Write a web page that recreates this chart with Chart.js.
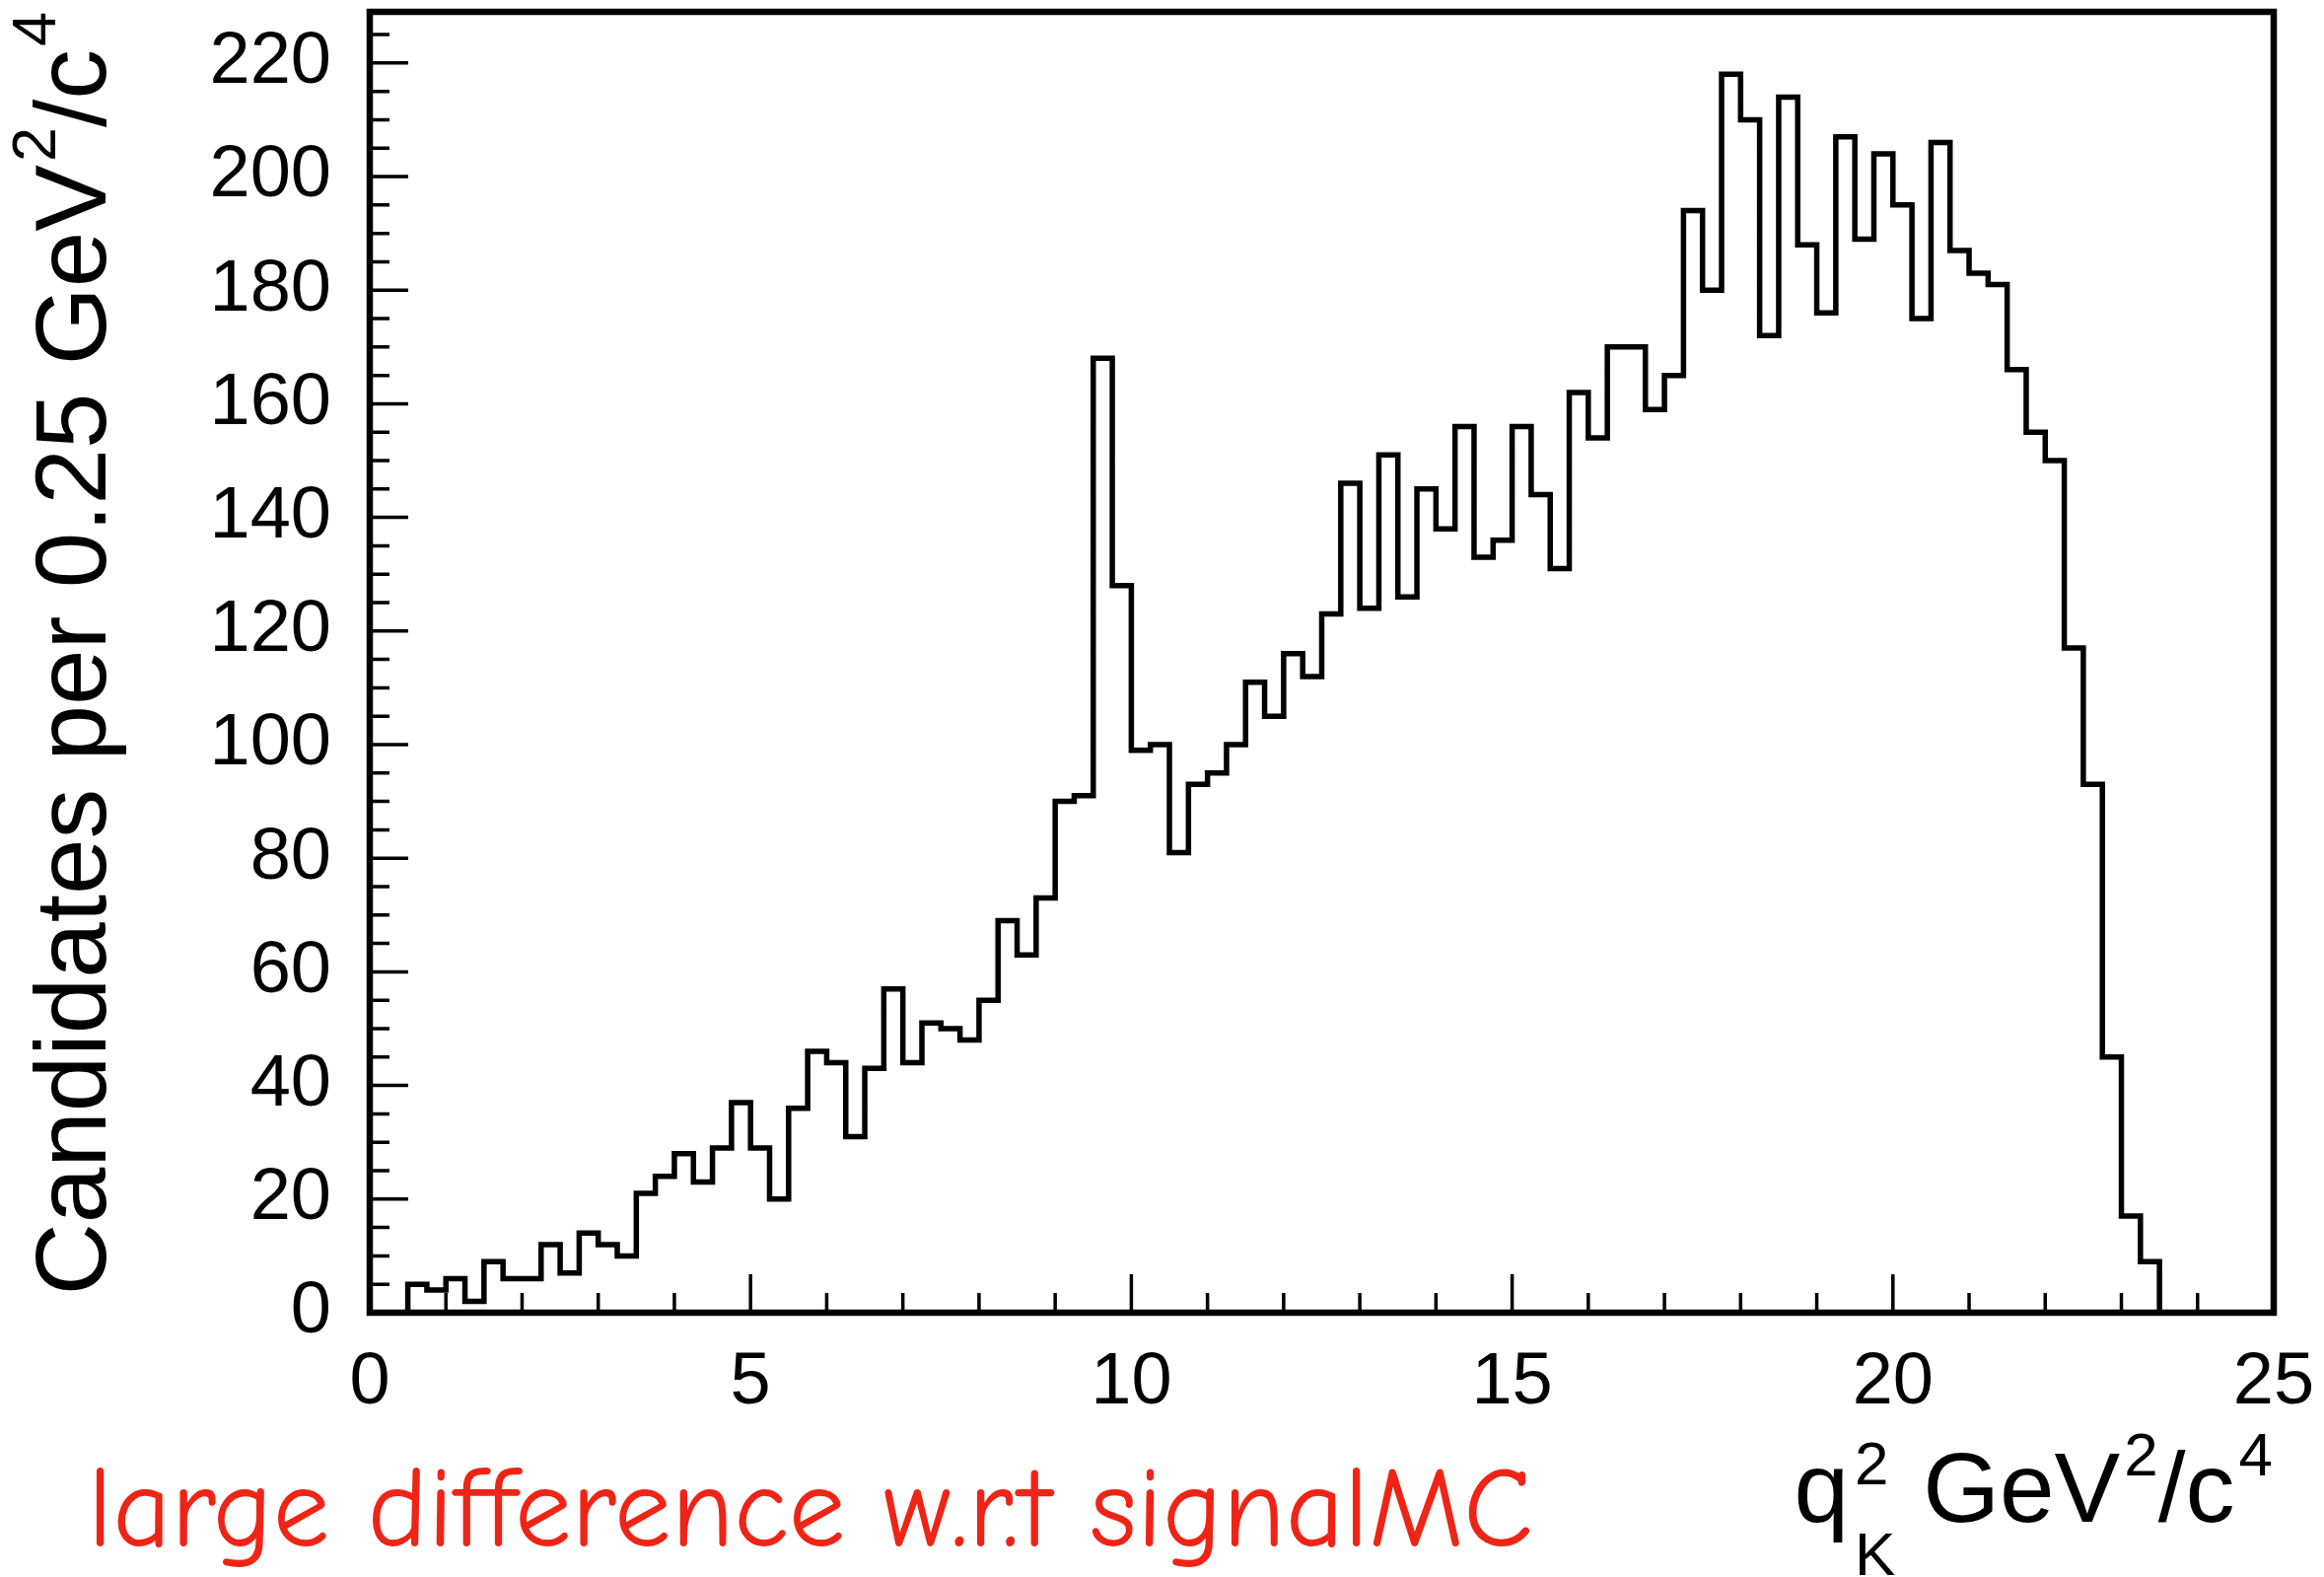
<!DOCTYPE html>
<html><head><meta charset="utf-8">
<script src="https://cdn.jsdelivr.net/npm/chart.js@4.4.1/dist/chart.umd.min.js"></script>
<style>html,body{margin:0;padding:0;background:#fff;}canvas{display:block;}</style>
</head><body>
<canvas id="c" width="2357" height="1599" style="width:2357px;height:1599px"></canvas>
<script>
// ---- data ----
const xMin = 0, xMax = 25, binWidth = 0.25;
const yMin = 0, yMax = 229;
const counts = [
  0, 0, 5, 4, 6, 2, 9, 6, 6, 12,
  7, 14, 12, 10, 21, 24, 28, 23, 29, 37,
  29, 20, 36, 46, 44, 31, 43, 57, 44, 51,
  50, 48, 55, 69, 63, 73, 90, 91, 168, 128,
  99, 100, 81, 93, 95, 100, 111, 105, 116, 112,
  123, 146, 124, 151, 126, 145, 138, 156, 133, 136,
  156, 144, 131, 162, 154, 170, 170, 159, 165, 194,
  180, 218, 210, 172, 214, 188, 176, 207, 189, 204,
  195, 175, 206, 187, 183, 181, 166, 155, 150, 117,
  93, 45, 17, 9, 0, 0, 0, 0, 0, 0
];
const binLowEdges = counts.map((_, i) => xMin + i * binWidth);
const yTickLabels = [0, 20, 40, 60, 80, 100, 120, 140, 160, 180, 200, 220];
const xTickLabels = [0, 5, 10, 15, 20, 25];
const yTitleParts = [
  {t: 'Candidates per 0.25 GeV', s: 1, r: 0},
  {t: '2', s: 0.62, r: 0.5, gap: 3},
  {t: '/c', s: 1, r: 0},
  {t: '4', s: 0.62, r: 0.5, gap: 3}
];
const xTitleParts = [
  {t: 'q', s: 1, r: 0},
  {t: '2', s: 0.62, r: 0.38, gap: 6, stack: true},
  {t: 'K', s: 0.62, r: -0.54, gap: 6},
  {t: ' GeV', s: 1, r: 0},
  {t: '2', s: 0.62, r: 0.47, gap: 4},
  {t: '/c', s: 1, r: 0},
  {t: '4', s: 0.62, r: 0.47, gap: 4}
];
const noteText = 'large difference w.r.t signalMC';

// ---- styling ----
const FONT = "'Liberation Sans', Arial, Helvetica, sans-serif";
const NOTE_FONT = "'Comic Sans MS', 'Comic Neue', 'DejaVu Sans'";
const AREA = {left: 375, right: 2306, top: 12, bottom: 1331};
const W = 2357, H = 1599;

const points = binLowEdges.map((x, i) => ({x: x, y: counts[i]}));
points.push({x: xMax, y: counts[counts.length - 1]});

function drawRich(ctx, parts, size) {
  const items = [];
  let x = 0, pending = 0;
  for (const p of parts) {
    ctx.font = (size * p.s) + 'px ' + FONT;
    const w = ctx.measureText(p.t).width;
    const startX = x + (p.gap || 0);
    items.push({p, x: startX, w});
    if (p.stack) { pending = Math.max(pending, w + (p.gap || 0)); }
    else { x = startX + Math.max(w, pending - (p.gap || 0)); pending = 0; }
  }
  const total = x;
  ctx.textAlign = 'left';
  ctx.textBaseline = 'alphabetic';
  for (const it of items) {
    ctx.font = (size * it.p.s) + 'px ' + FONT;
    ctx.fillText(it.p.t, it.x - total, -it.p.r * size);
  }
}

const rootPlugin = {
  id: 'rootStyle',
  afterDatasetsDraw(chart) {
    const {ctx, chartArea: a, scales: {x, y}} = chart;
    ctx.save();
    ctx.strokeStyle = '#000';
    ctx.lineWidth = 3.5;
    ctx.lineCap = 'butt';
    ctx.beginPath();
    for (let v = yMin; v <= yMax; v += 5) {
      const py = y.getPixelForValue(v);
      const len = (v % 20 === 0) ? 39 : 20;
      ctx.moveTo(a.left, py); ctx.lineTo(a.left + len, py);
    }
    for (let v = xMin; v <= xMax; v += 1) {
      const px = x.getPixelForValue(v);
      const len = (v % 5 === 0) ? 39 : 20;
      ctx.moveTo(px, a.bottom); ctx.lineTo(px, a.bottom - len);
    }
    ctx.stroke();
    ctx.lineWidth = 6.5;
    ctx.lineJoin = 'miter';
    ctx.strokeRect(a.left, a.top, a.right - a.left, a.bottom - a.top);
    ctx.restore();
  },
  afterDraw(chart) {
    const ctx = chart.ctx;
    ctx.save();
    ctx.fillStyle = '#000';
    ctx.save();
    ctx.translate(107, 12);
    ctx.rotate(-Math.PI / 2);
    drawRich(ctx, yTitleParts, 101.6);
    ctx.restore();
    ctx.save();
    ctx.translate(2305, 1543);
    drawRich(ctx, xTitleParts, 100);
    ctx.restore();
    let size = 100;
    ctx.font = size + 'px ' + NOTE_FONT;
    const w = ctx.measureText(noteText).width;
    size = size * 1466 / w;
    ctx.font = size + 'px ' + NOTE_FONT;
    ctx.fillStyle = '#ee2416';
    ctx.textAlign = 'left';
    ctx.textBaseline = 'alphabetic';
    ctx.fillText(noteText, 89, 1567);
    ctx.restore();
  }
};

new Chart(document.getElementById('c'), {
  type: 'line',
  data: {
    datasets: [{
      data: points,
      stepped: true,
      borderColor: '#000',
      borderWidth: 5.5,
      borderJoinStyle: 'miter',
      borderCapStyle: 'butt',
      pointRadius: 0,
      fill: false,
      tension: 0
    }]
  },
  options: {
    responsive: false,
    animation: false,
    devicePixelRatio: 1,
    layout: {padding: {left: 0, top: AREA.top, right: W - AREA.right, bottom: 0}},
    plugins: {legend: {display: false}, tooltip: {enabled: false}},
    scales: {
      x: {
        type: 'linear', min: xMin, max: xMax,
        grid: {display: false, drawTicks: false},
        border: {display: false},
        afterBuildTicks: s => { s.ticks = xTickLabels.map(v => ({value: v})); },
        afterFit: s => { s.height = H - AREA.bottom; s.paddingLeft = 0; s.paddingRight = 0; },
        ticks: {
          autoSkip: false, maxRotation: 0, minRotation: 0, padding: 27,
          color: '#000', font: {family: FONT, size: 74}
        }
      },
      y: {
        type: 'linear', min: yMin, max: yMax,
        grid: {display: false, drawTicks: false},
        border: {display: false},
        afterBuildTicks: s => { s.ticks = yTickLabels.map(v => ({value: v})); },
        afterFit: s => { s.width = AREA.left; s.paddingTop = 0; s.paddingBottom = 0; },
        ticks: {
          autoSkip: false, padding: 39,
          color: '#000', font: {family: FONT, size: 74}
        }
      }
    }
  },
  plugins: [rootPlugin]
});
</script>
</body></html>
